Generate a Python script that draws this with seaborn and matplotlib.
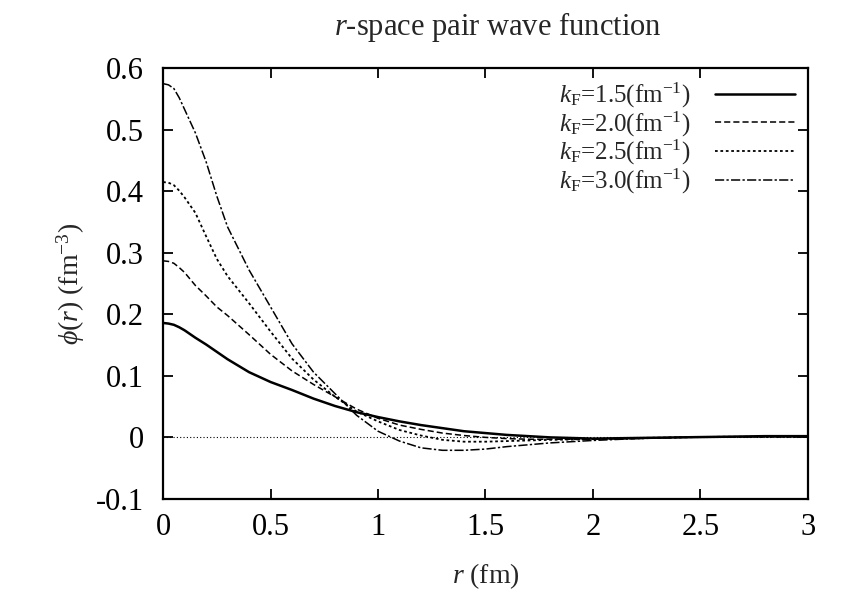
import matplotlib
matplotlib.use("Agg")
import matplotlib.pyplot as plt
import seaborn as sns
import pandas as pd

r = [0, 0.025, 0.05, 0.075, 0.1, 0.15, 0.2, 0.25, 0.3, 0.4, 0.5, 0.6, 0.7, 0.8,
     0.9, 1.0, 1.1, 1.2, 1.3, 1.4, 1.5, 1.6, 1.7, 1.8, 2.0, 2.2, 2.4, 2.6, 2.8, 3.0]

phi_15 = [0.186, 0.185, 0.183, 0.179, 0.174, 0.162, 0.151, 0.139, 0.127, 0.106,
          0.090, 0.077, 0.063, 0.051, 0.041, 0.033, 0.026, 0.020, 0.015, 0.010,
          0.007, 0.004, 0.002, 0.000, -0.002, -0.001, 0.000, 0.001, 0.002, 0.002]
phi_20 = [0.287, 0.286, 0.283, 0.276, 0.268, 0.247, 0.230, 0.212, 0.198, 0.167,
          0.135, 0.108, 0.086, 0.066, 0.046, 0.031, 0.020, 0.013, 0.007, 0.003,
          0.000, -0.002, -0.003, -0.003, -0.003, -0.002, 0.000, 0.001, 0.001, 0.001]
phi_25 = [0.415, 0.414, 0.410, 0.401, 0.390, 0.365, 0.327, 0.290, 0.262, 0.218,
          0.172, 0.128, 0.094, 0.066, 0.042, 0.026, 0.012, 0.003, -0.004, -0.007,
          -0.007, -0.006, -0.005, -0.004, -0.003, -0.001, 0.000, 0.001, 0.001, 0.001]
phi_30 = [0.575, 0.573, 0.567, 0.552, 0.533, 0.495, 0.448, 0.392, 0.342, 0.272,
          0.212, 0.152, 0.106, 0.071, 0.036, 0.010, -0.006, -0.017, -0.021, -0.021,
          -0.019, -0.015, -0.012, -0.009, -0.005, -0.002, 0.000, 0.001, 0.001, 0.001]

labels = [r"$k_\mathrm{F}$=1.5(fm$^{-1}$)", r"$k_\mathrm{F}$=2.0(fm$^{-1}$)",
          r"$k_\mathrm{F}$=2.5(fm$^{-1}$)", r"$k_\mathrm{F}$=3.0(fm$^{-1}$)"]
series = [phi_15, phi_20, phi_25, phi_30]

x_ticks = [0, 0.5, 1, 1.5, 2, 2.5, 3]
x_ticklabels = ["0", "0.5", "1", "1.5", "2", "2.5", "3"]
y_ticks = [-0.1, 0, 0.1, 0.2, 0.3, 0.4, 0.5, 0.6]
y_ticklabels = ["-0.1", "0", "0.1", "0.2", "0.3", "0.4", "0.5", "0.6"]

sns.set_theme(style="ticks")
plt.rcParams["font.family"] = ["Liberation Serif", "DejaVu Serif"]
plt.rcParams["mathtext.fontset"] = "custom"
plt.rcParams["mathtext.rm"] = "Liberation Serif"
plt.rcParams["mathtext.it"] = "Liberation Serif:italic"
plt.rcParams["mathtext.bf"] = "Liberation Serif:bold"

fig = plt.figure(figsize=(8.54, 6.04), dpi=100)
ax = fig.add_axes([0.191, 0.174, 0.755, 0.713])

rows = []
for lab, vals in zip(labels, series):
    for rv, pv in zip(r, vals):
        rows.append({"r": rv, "phi": pv, "kF": lab})
df = pd.DataFrame(rows)

styles = {
    labels[0]: dict(ls="-", lw=1.8),
    labels[1]: dict(ls=(0, (4, 2)), lw=1.1),
    labels[2]: dict(ls=(0, (1.5, 1.5)), lw=1.3),
    labels[3]: dict(ls=(0, (6, 1.5, 1.5, 1.5)), lw=1.1),
}

ax.axhline(0, color="black", lw=0.8, ls=(0, (1, 2)), zorder=1)
for lab in labels:
    sub = df[df["kF"] == lab]
    st = styles[lab]
    sns.lineplot(data=sub, x="r", y="phi", ax=ax, color="black",
                 linestyle=st["ls"], linewidth=st["lw"], label=lab,
                 estimator=None, sort=False)

ax.set_xlim(0, 3)
ax.set_ylim(-0.1, 0.6)
ax.set_xticks(x_ticks)
ax.set_xticklabels(x_ticklabels)
ax.set_yticks(y_ticks)
ax.set_yticklabels(y_ticklabels)
ax.tick_params(direction="in", length=7, width=1.3, top=True, right=True,
               labelsize=22, colors="black")
ax.tick_params(axis="y", pad=14)
ax.tick_params(axis="x", pad=10)
for sp in ax.spines.values():
    sp.set_linewidth(1.6)
    sp.set_color("black")

ax.set_xlabel(r"$r$ (fm)", fontsize=20, labelpad=14)
ax.set_ylabel(r"$\phi(r)$ (fm$^{-3}$)", fontsize=20, labelpad=6)
fig.text(0.583, 0.955, r"$r$-space pair wave function", fontsize=22,
         ha="center", va="center")

leg = ax.legend(loc="upper right", frameon=False, markerfirst=False,
                fontsize=18, handlelength=3.2, labelspacing=-0.02,
                borderaxespad=0.2, borderpad=0.3, handletextpad=1.0)

fig.savefig("out.png", dpi=100)
